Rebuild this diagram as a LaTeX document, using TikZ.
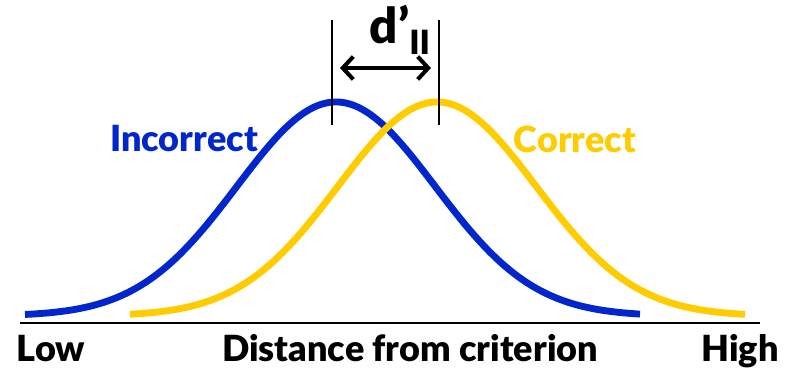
\documentclass[tikz,border=0pt]{standalone}
\usepackage{fontspec}
\setmainfont{Lato Black}
\usepackage{xcolor}
\usepackage{tikz}
\usetikzlibrary{positioning, arrows.meta}

\definecolor{incblue}{RGB}{0,38,204}
\definecolor{coryellow}{RGB}{255,204,0}

\begin{document}
\begin{tikzpicture}[x=0.02cm, y=-0.02cm, every node/.style={font=\fontsize{20.5}{22}\selectfont}]
      \useasboundingbox (0,0) rectangle (789,368);

      % Axis
      \coordinate (axl) at (20, 323);
      \coordinate (axr) at (760, 323);
      \draw[line width=1.7pt] (axl) -- (axr);

      % Curves
      \draw[incblue, line width=3.9pt] plot[domain=25:640, samples=120, smooth]
        (\x, {316-214*exp(-((\x-336)/99)^2/2)});
      \draw[coryellow, line width=3.9pt] plot[domain=130:745, samples=120, smooth]
        (\x, {316-214*exp(-((\x-437)/99)^2/2)});

      % Markers at the means
      \coordinate (mtop) at (332, 20);
      \coordinate (mbot) at (332, 125);
      \coordinate (ctop) at (439, 20);
      \coordinate (cbot) at (439, 125);
      \draw[line width=1.1pt] (mtop) -- (mbot);
      \draw[line width=1.1pt] (ctop) -- (cbot);

      % d' arrow
      \coordinate (al) at (340, 68);
      \coordinate (ar) at (431, 68);
      \draw[line width=2.3pt, {Straight Barb[length=6pt, width=13pt]}-{Straight Barb[length=6pt, width=13pt]}] (al) -- (ar);
      \node[font=\fontsize{28}{30}\selectfont] (dlab) at (400, 30) {d’\raisebox{-0.4ex}{\fontsize{19}{20}\selectfont II}};

      % Labels
      \node[text=incblue] (inc) at (184, 139) {Incorrect};
      \node[text=coryellow] (cor) at (575, 139) {Correct};
      \node[anchor=base, inner sep=0pt] (low) at (51, 361) {Low};
      \node[anchor=base, inner sep=0pt] (dist) at (410, 361) {Distance from criterion};
      \node[anchor=base, inner sep=0pt] (high) at (740, 361) {High};
    \end{tikzpicture}
\end{document}
